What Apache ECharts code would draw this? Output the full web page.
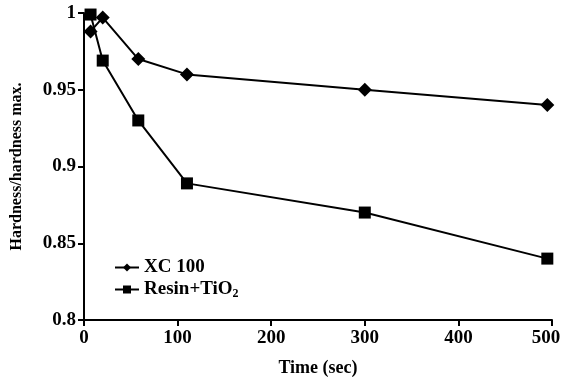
<!DOCTYPE html>
<html>
<head>
<meta charset="utf-8">
<script src="https://cdn.jsdelivr.net/npm/echarts@6/dist/echarts.min.js"></script>
<style>
  html, body { margin: 0; padding: 0; background: #fff; }
  #chart { width: 561px; height: 383px; }
</style>
</head>
<body>
<div id="chart"></div>
<script>
const xcTime = [7, 20, 58, 110, 300, 495];
const xcValues = [0.988, 0.997, 0.97, 0.96, 0.95, 0.94];
const resinTime = [7, 20, 58, 110, 300, 495];
const resinValues = [0.999, 0.969, 0.93, 0.889, 0.87, 0.84];
const seriesNames = ["XC 100", "Resin+TiO2"];

const font = "Liberation Serif";
const labelStyle = { fontFamily: font, fontSize: 19, fontWeight: "bold", color: "#000" };

function pairs(xs, ys) {
  return xs.map(function (x, i) { return [x, ys[i]]; });
}

const chart = echarts.init(document.getElementById("chart"));
chart.setOption({
  animation: false,
  textStyle: { fontFamily: font, color: "#000" },
  grid: { left: 84, right: 9, top: 13, bottom: 63, containLabel: false, outerBoundsMode: "none" },
  legend: {
    left: 109,
    top: 253,
    orient: "vertical",
    itemGap: 3,
    itemWidth: 24,
    itemHeight: 10,
    data: seriesNames,
    textStyle: {
      fontFamily: font,
      fontSize: 19,
      fontWeight: "bold",
      color: "#000",
      rich: {
        b: labelStyle,
        sub: { fontFamily: font, fontSize: 12, fontWeight: "bold", color: "#000", verticalAlign: "bottom", padding: [9, 0, 0, 0] }
      }
    },
    formatter: function (name) {
      if (name === "Resin+TiO2") return "{b|Resin+TiO}{sub|2}";
      return "{b|" + name + "}";
    }
  },
  xAxis: {
    type: "value",
    min: 0,
    max: 500,
    interval: 100,
    name: "Time (sec)",
    nameLocation: "middle",
    nameGap: 39,
    nameTextStyle: { fontFamily: font, fontSize: 18, fontWeight: "bold", color: "#000" },
    splitLine: { show: false },
    axisLine: { lineStyle: { color: "#000", width: 2 } },
    axisTick: { show: true, lineStyle: { color: "#000", width: 2 }, length: 6 },
    axisLabel: Object.assign({}, labelStyle, {
      margin: 9,
      // last label sits left of its tick so it stays inside the picture
      formatter: function (v) {
        return v === 500 ? "{last|500}" : "{n|" + v + "}";
      },
      rich: {
        n: labelStyle,
        last: Object.assign({}, labelStyle, { padding: [0, 12, 0, 0] })
      }
    })
  },
  yAxis: {
    type: "value",
    min: 0.8,
    max: 1,
    interval: 0.05,
    name: "Hardness/hardness max.",
    nameLocation: "middle",
    nameGap: 59,
    nameTextStyle: { fontFamily: font, fontSize: 16, fontWeight: "bold", color: "#000" },
    splitLine: { show: false },
    axisLine: { show: true, lineStyle: { color: "#000", width: 2 } },
    axisTick: { show: true, lineStyle: { color: "#000", width: 2 }, length: 6 },
    axisLabel: Object.assign({}, labelStyle, { margin: 8 })
  },
  series: [
    {
      name: seriesNames[0],
      type: "line",
      data: pairs(xcTime, xcValues),
      symbol: "diamond",
      symbolSize: 14,
      itemStyle: { color: "#000" },
      lineStyle: { color: "#000", width: 2 }
    },
    {
      name: seriesNames[1],
      type: "line",
      data: pairs(resinTime, resinValues),
      symbol: "rect",
      symbolSize: 12,
      itemStyle: { color: "#000" },
      lineStyle: { color: "#000", width: 2 }
    }
  ]
});
</script>
</body>
</html>
